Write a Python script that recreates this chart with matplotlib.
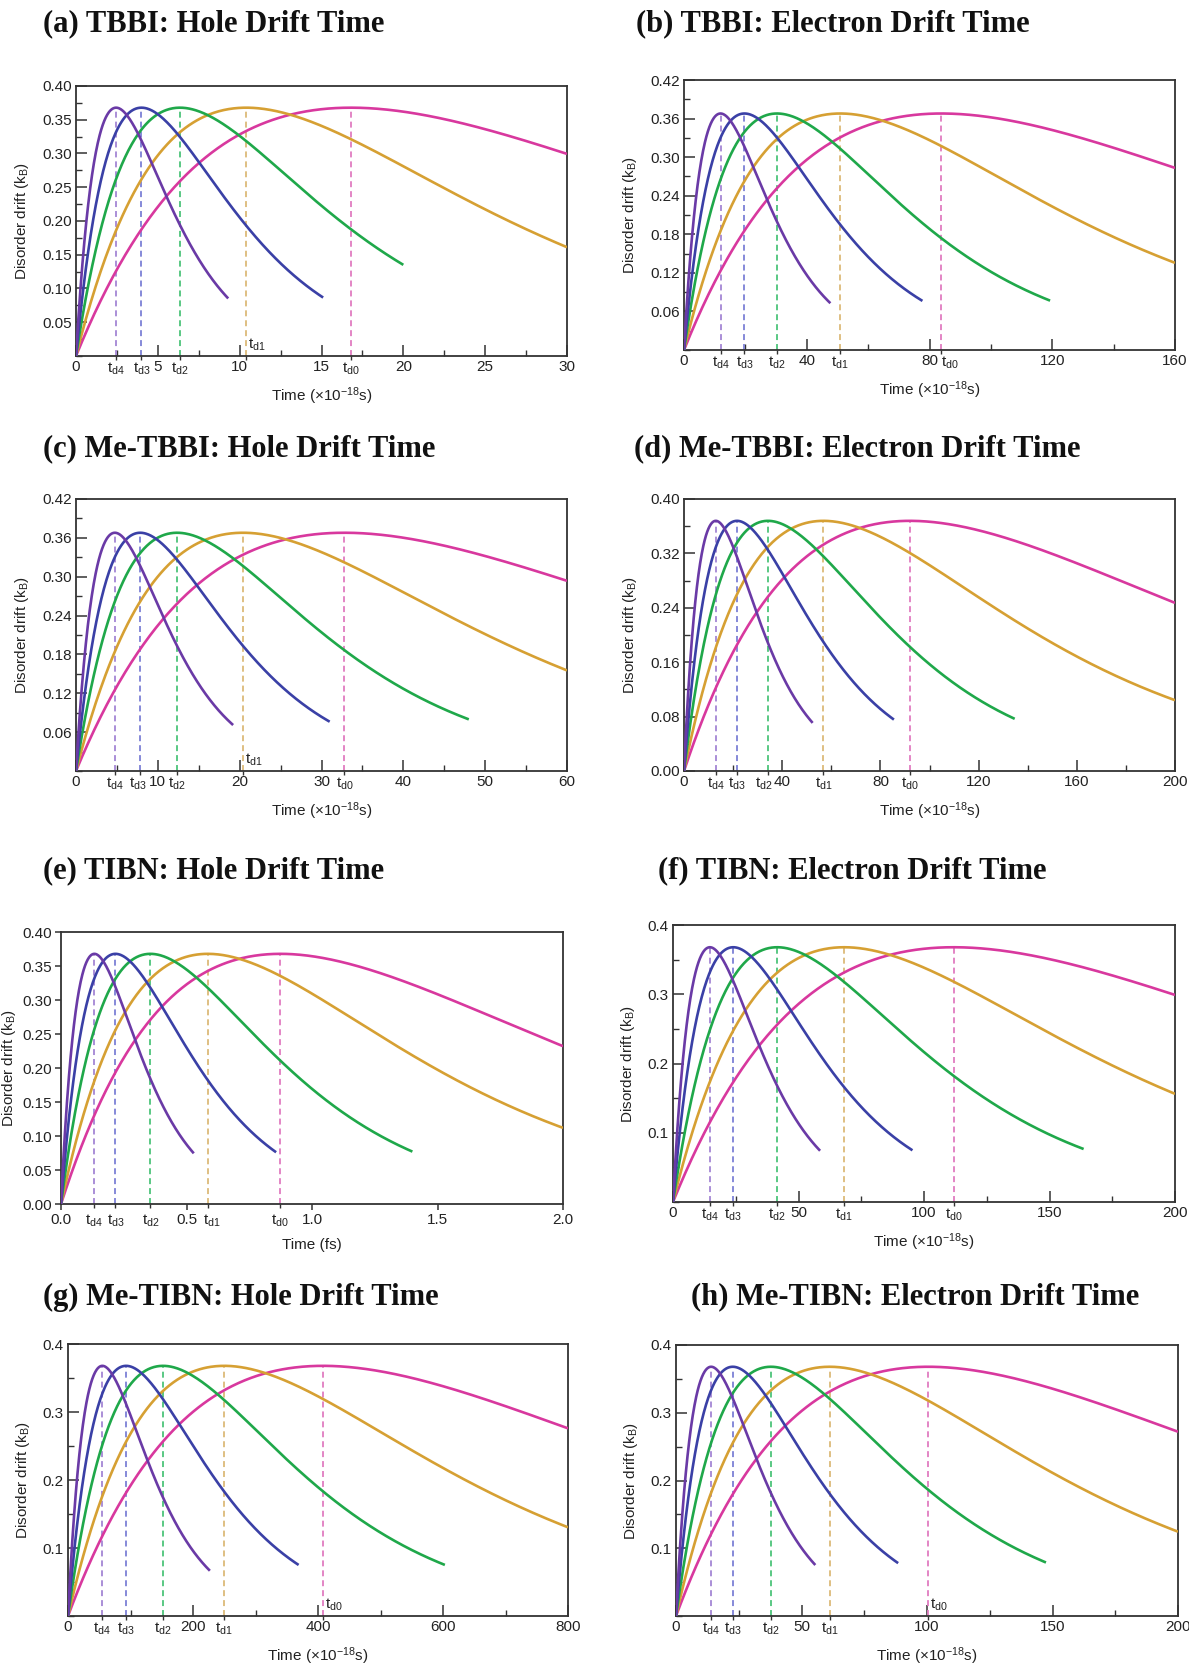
import numpy as np
import matplotlib.pyplot as plt
from matplotlib.ticker import MultipleLocator, FormatStrFormatter

W, H = 1189, 1671

td_a = [16.8, 10.4, 6.35, 4.0, 2.45]
td_b = [83.9, 50.9, 30.3, 19.7, 11.9]
td_c = [32.8, 20.4, 12.35, 7.85, 4.75]
td_d = [92.0, 56.8, 34.2, 21.6, 12.95]
td_e = [0.874, 0.585, 0.356, 0.217, 0.133]
td_f = [111.8, 68.2, 41.5, 24.0, 14.7]
td_g = [408, 250, 152, 93, 55]
td_h = [100.5, 61.2, 37.8, 22.6, 14.0]

# where each curve stops (same order)
end_a = [30, 30, 20.0, 15.1, 9.3]
end_b = [160, 160, 119.3, 77.7, 47.7]
end_c = [60, 60, 48.0, 31.0, 19.2]
end_d = [200, 200, 134.7, 85.5, 52.4]
end_e = [2.0, 2.0, 1.40, 0.857, 0.529]
end_f = [200, 200, 163.6, 95.4, 58.6]
end_g = [800, 800, 603, 369, 227]
end_h = [200, 200, 147.4, 88.5, 55.5]

td_names = ['t$_\\mathrm{d0}$', 't$_\\mathrm{d1}$', 't$_\\mathrm{d2}$', 't$_\\mathrm{d3}$', 't$_\\mathrm{d4}$']
line_colors = ['#d8389e', '#d6a033', '#1fa84a', '#3a40a6', '#6a3aa6']
dash_colors = ['#e07cc0', '#dcba78', '#4cc47a', '#7c80d6', '#a486d4']

titles = ['(a) TBBI: Hole Drift Time', '(b) TBBI: Electron Drift Time',
          '(c) Me-TBBI: Hole Drift Time', '(d) Me-TBBI: Electron Drift Time',
          '(e) TIBN: Hole Drift Time', '(f) TIBN: Electron Drift Time',
          '(g) Me-TIBN: Hole Drift Time', '(h) Me-TIBN: Electron Drift Time']
xlab = 'Time (\u00d710$^{-18}$s)'
xlabels = [xlab, xlab, xlab, xlab, 'Time (fs)', xlab, xlab, xlab]

panels = [
    dict(td=td_a, end=end_a, xmax=30, xmaj=5, xmin=2.5, yt=np.arange(0.05, 0.401, 0.05), ymax=0.40, ymin_s=0.025,
         yfmt='%.2f', xfmt='%d', inside=[1], shift={}, tdir='in',
         box=(76, 86, 567, 356), tpos=(43, 24)),
    dict(td=td_b, end=end_b, xmax=160, xmaj=40, xmin=20, yt=np.arange(0.06, 0.421, 0.06), ymax=0.42, ymin_s=0.03,
         yfmt='%.2f', xfmt='%d', inside=[], shift={0: 6}, tdir='in',
         box=(684, 80, 1175, 350), tpos=(636, 24)),
    dict(td=td_c, end=end_c, xmax=60, xmaj=10, xmin=5, yt=np.arange(0.06, 0.421, 0.06), ymax=0.42, ymin_s=0.03,
         yfmt='%.2f', xfmt='%d', inside=[1], shift={3: -2}, tdir='in',
         box=(76, 499, 567, 771), tpos=(43, 449)),
    dict(td=td_d, end=end_d, xmax=200, xmaj=40, xmin=20, yt=np.arange(0.0, 0.401, 0.08), ymax=0.40, ymin_s=0.04,
         yfmt='%.2f', xfmt='%d', inside=[], shift={2: -3}, tdir='in',
         box=(684, 499, 1175, 771), tpos=(634, 449)),
    dict(td=td_e, end=end_e, xmax=2.0, xmaj=0.5, xmin=None, yt=np.arange(0.0, 0.401, 0.05), ymax=0.40, ymin_s=None,
         yfmt='%.2f', xfmt='%.1f', inside=[], shift={1: 3}, tdir='out',
         box=(61, 932, 563, 1204), tpos=(43, 871)),
    dict(td=td_f, end=end_f, xmax=200, xmaj=50, xmin=25, yt=np.arange(0.1, 0.401, 0.1), ymax=0.40, ymin_s=0.05,
         yfmt='%.1f', xfmt='%d', inside=[], shift={}, tdir='in',
         box=(673, 925, 1175, 1202), tpos=(658, 871)),
    dict(td=td_g, end=end_g, xmax=800, xmaj=200, xmin=100, yt=np.arange(0.1, 0.401, 0.1), ymax=0.40, ymin_s=0.05,
         yfmt='%.1f', xfmt='%d', inside=[0], shift={}, tdir='in',
         box=(68, 1344, 568, 1616), tpos=(43, 1297)),
    dict(td=td_h, end=end_h, xmax=200, xmaj=50, xmin=25, yt=np.arange(0.1, 0.401, 0.1), ymax=0.40, ymin_s=0.05,
         yfmt='%.1f', xfmt='%d', inside=[0], shift={}, tdir='in',
         box=(676, 1345, 1178, 1616), tpos=(691, 1297)),
]


def drift(t, td):
    # disorder drift model, peaks at t = td with 1/e
    return (t / td) * np.exp(-t / td)


plt.rcParams['font.family'] = ['Liberation Sans', 'DejaVu Sans']
plt.rcParams['mathtext.fontset'] = 'custom'
plt.rcParams['mathtext.rm'] = 'Liberation Sans'
plt.rcParams['mathtext.it'] = 'Liberation Sans:italic'
fig = plt.figure(figsize=(W / 100, H / 100), dpi=100)
fs = 11
txt_col = '#222222'

for p, title, xl in zip(panels, titles, xlabels):
    l, t, r, b = p['box']
    ax = fig.add_axes([l / W, 1 - b / H, (r - l) / W, (b - t) / H])

    for k in range(5):
        td = p['td'][k]
        tt = np.linspace(0, p['end'][k], 400)
        ax.plot(tt, drift(tt, td), color=line_colors[k], lw=1.9, zorder=3, solid_capstyle='butt')
        ax.vlines(td, 0, drift(td, td), colors=dash_colors[k], linestyles=(0, (3.3, 2.2)), lw=1.3, zorder=2)

    ax.set_xlim(0, p['xmax'])
    ax.set_ylim(0, p['ymax'])
    ax.xaxis.set_major_locator(MultipleLocator(p['xmaj']))
    ax.xaxis.set_major_formatter(FormatStrFormatter(p['xfmt']))
    if p['xmin']:
        ax.xaxis.set_minor_locator(MultipleLocator(p['xmin']))
    ax.set_yticks(p['yt'])
    ax.yaxis.set_major_formatter(FormatStrFormatter(p['yfmt']))
    if p['ymin_s']:
        ax.yaxis.set_minor_locator(MultipleLocator(p['ymin_s']))

    out = p['tdir'] == 'out'
    tlen = 4.5 if out else 8
    tpad = 2 if out else 3
    ax.tick_params(which='major', direction=p['tdir'], length=tlen, width=1.1, labelsize=fs,
                   colors='#333333', labelcolor=txt_col, pad=tpad)
    ax.tick_params(which='minor', direction=p['tdir'], length=4, width=1.0, colors='#333333')
    for s in ax.spines.values():
        s.set_linewidth(1.3)
        s.set_color('#333333')

    # short marks under the axis at each drift time
    sec = ax.secondary_xaxis('bottom')
    sec.set_xticks(p['td'], labels=[''] * 5)
    sec.tick_params(direction='out', length=3, width=1.0, colors='#333333')
    sec.spines['bottom'].set_visible(False)

    lab_pad = tpad + (tlen if out else 0)
    for k in range(5):
        if k in p['inside']:
            ax.annotate(td_names[k], xy=(p['td'][k], 0), xycoords=ax.get_xaxis_transform(),
                        xytext=(1.5, 2), textcoords='offset points', ha='left', va='bottom',
                        fontsize=fs, color=txt_col)
        else:
            ax.annotate(td_names[k], xy=(p['td'][k], 0), xycoords=ax.get_xaxis_transform(),
                        xytext=(p['shift'].get(k, 0), -lab_pad), textcoords='offset points',
                        ha='center', va='top', fontsize=fs, color=txt_col)

    ax.set_xlabel(xl, fontsize=fs, labelpad=8, color=txt_col)
    ax.set_ylabel('Disorder drift (k$_\\mathrm{B}$)', fontsize=fs, labelpad=3 if out else 8, color=txt_col)

    fig.text(p['tpos'][0] / W, 1 - p['tpos'][1] / H, title, fontsize=22, fontweight='bold',
             family='Liberation Serif', ha='left', va='center', color='#111111')

fig.savefig('out.png', dpi=100)
